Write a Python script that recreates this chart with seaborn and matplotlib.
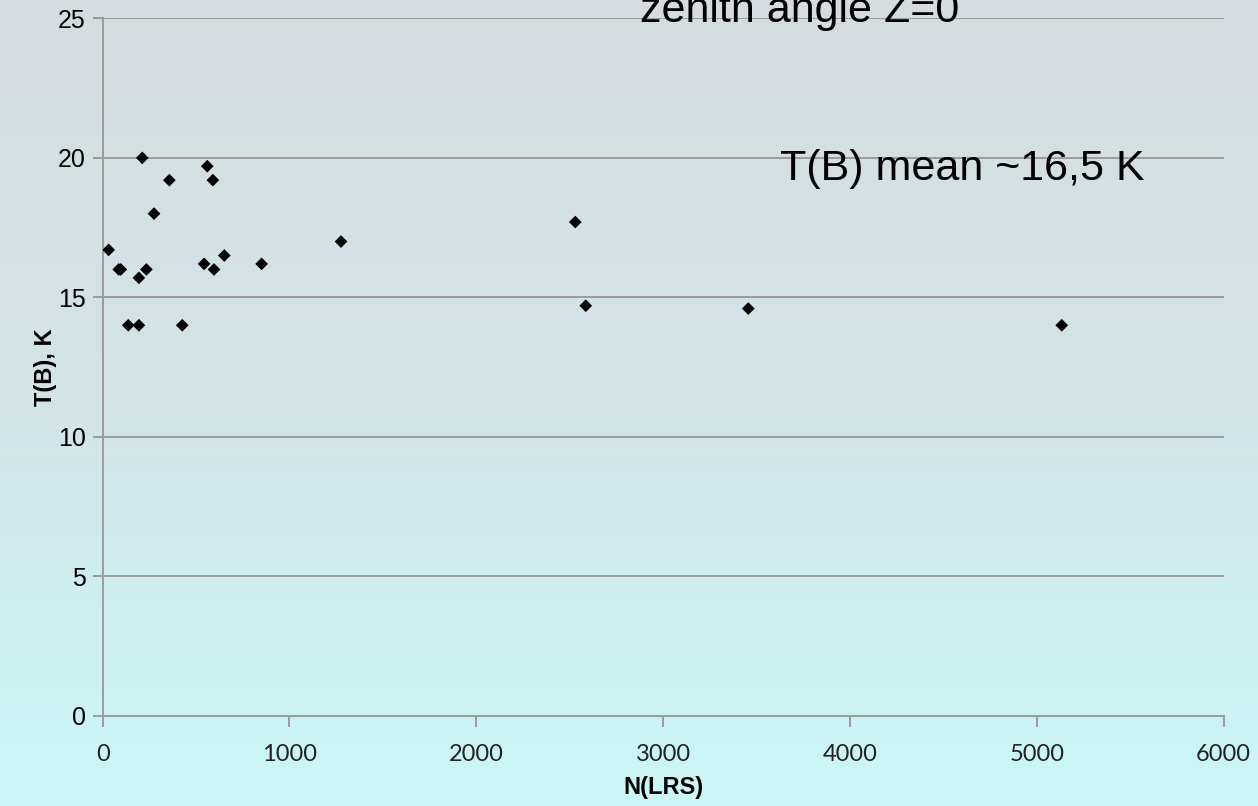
import numpy as np
import pandas as pd
import seaborn as sns
import matplotlib.pyplot as plt
from matplotlib.colors import LinearSegmentedColormap

sns.set_style('white')
plt.rcParams['font.family'] = ['Liberation Sans', 'DejaVu Sans']
plt.rcParams['text.color'] = 'black'
plt.rcParams['axes.labelcolor'] = 'black'

# Data
n_lrs = [32, 86, 97, 137, 194, 194, 234, 212, 275, 357, 426,
         560, 590, 543, 596, 651, 851, 1276, 2530, 2586, 3456, 5134]
t_b = [16.7, 16.0, 16.0, 14.0, 14.0, 15.7, 16.0, 20.0, 18.0, 19.2, 14.0,
       19.7, 19.2, 16.2, 16.0, 16.5, 16.2, 17.0, 17.7, 14.7, 14.6, 14.0]
x_ticks = [0, 1000, 2000, 3000, 4000, 5000, 6000]
y_ticks = [0, 5, 10, 15, 20, 25]

df = pd.DataFrame({'N(LRS)': n_lrs, 'T(B), K': t_b})

fig = plt.figure(figsize=(12.58, 8.06), dpi=100)

# Gradient background (grey on top to light cyan at bottom)
bg = fig.add_axes([0, 0, 1, 1], zorder=-1)
cmap = LinearSegmentedColormap.from_list('bg', ['#d6dce0', '#d2e5e7', '#cbf7f7'])
bg.imshow(np.linspace(0, 1, 256).reshape(-1, 1), aspect='auto', cmap=cmap,
          extent=[0, 1, 0, 1])
bg.axis('off')

ax = fig.add_axes([0.0816, 0.1117, 0.8910, 0.8656])
ax.set_facecolor('none')

sns.scatterplot(data=df, x='N(LRS)', y='T(B), K', marker='D', color='black',
                s=42, edgecolor='none', ax=ax, zorder=3)

ax.set_xlim(0, 6000)
ax.set_ylim(0, 25)
ax.set_xticks(x_ticks)
ax.set_yticks(y_ticks)
ax.set_xticklabels([str(t) for t in x_ticks], family=['Lato', 'DejaVu Sans'],
                   fontsize=17, color='#222222')
ax.set_yticklabels([str(t) for t in y_ticks], fontsize=18, color='black')

ax.yaxis.grid(True, color='#9c9c9c', lw=1.4)
ax.xaxis.grid(False)
for side in ['top', 'right']:
    ax.spines[side].set_visible(False)
for side in ['left', 'bottom']:
    ax.spines[side].set_color('#9c9c9c')
    ax.spines[side].set_linewidth(1.4)
ax.tick_params(axis='y', length=7, width=1.4, color='#9c9c9c', pad=5, left=True)
ax.tick_params(axis='x', length=8, width=1.4, color='#9c9c9c', pad=12, bottom=True)

ax.set_xlabel('N(LRS)', fontsize=17, fontweight='bold', labelpad=8)
ax.set_ylabel('T(B), K', fontsize=17, fontweight='bold', labelpad=1)

ax.text(0.604, 0.768, 'T(B) mean ~16,5 K', transform=ax.transAxes,
        fontsize=31, ha='left', va='baseline')
# title-like note, cut by the top edge as in the original slide
ax.text(0.479, 0.995, 'zenith angle Z=0', transform=ax.transAxes,
        fontsize=31, ha='left', va='baseline', clip_on=False)

fig.savefig('out.png', dpi=100)
